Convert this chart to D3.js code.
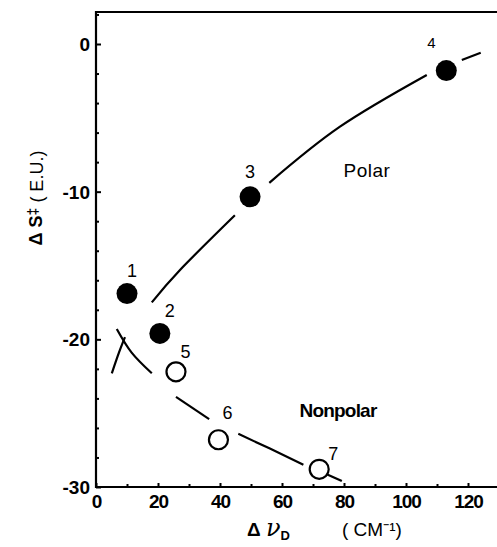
<!DOCTYPE html>
<html><head><meta charset="utf-8">
<script src="https://cdn.jsdelivr.net/npm/d3@7/dist/d3.min.js"></script>
<style>
body{margin:0;background:#fff;}
svg{display:block;font-family:"Liberation Sans",Arial,sans-serif;}
</style></head>
<body><svg id="c" width="497" height="547"></svg>
<script>
// ---- data ----
const polarIds = ["1","2","3","4"];
const polarX = [10, 20.6, 49.7, 113];
const polarY = [-16.9, -19.6, -10.35, -1.8];
const nonpolarIds = ["5","6","7"];
const nonpolarX = [25.8, 39.5, 72];
const nonpolarY = [-22.2, -26.8, -28.8];
// hand-drawn guide curves (segments, with gaps around markers)
const polarCurve = [
  [[18,-17.5],[27.1,-15.3],[44.8,-11.6]],
  [[55.9,-9.4],[78.7,-5.6],[106.7,-2.1]],
  [[118,-1.08],[124.1,-0.59]]
];
const nonpolarCurve = [
  [[5.1,-22.3],[7.4,-20.9],[9.35,-19.85]],
  [[6.7,-19.3],[11.5,-20.9],[18.0,-22.3]],
  [[25.8,-23.9],[36.5,-25.4]],
  [[45.9,-26.4],[56.1,-27.4],[66.9,-28.5]],
  [[74.6,-29.15],[79.3,-29.6]]
];
const xTicks = [0,20,40,60,80,100,120];
const xMinor = [10,30,50,70,90,110,130];
const yTicks = [0,-10,-20,-30];
const yMinor = [2,-2,-4,-6,-8,-12,-14,-16,-18,-22,-24,-26,-28];
const groupLabels = ["Polar","Nonpolar"];

// ---- styling / layout ----
const labelOffsets = {"1":[5,-17],"2":[10,-16],"3":[0,-19],"4":[-15,-23],"5":[9.5,-14],"6":[9,-21],"7":[14,-9]};

const svg = d3.select("#c");
const x = d3.scaleLinear().domain([0,120]).range([96,468]);
const y = d3.scaleLinear().domain([-30,0]).range([487,44]);
const frameTop = 12, frameRight = 497;

// frame
const frame = svg.append("g").attr("stroke","#000").attr("stroke-width",2.2).attr("fill","none");
frame.append("path").attr("d",`M${frameRight},${frameTop}H${x(0)}V${y(-30)}H${frameRight}`);

// axes
const fontSize = 19;
const gx = svg.append("g").attr("transform",`translate(0,${y(-30)})`)
  .call(d3.axisBottom(x).tickValues(xTicks).tickSize(-4).tickPadding(7.5));
const gxm = svg.append("g").attr("transform",`translate(0,${y(-30)})`)
  .call(d3.axisBottom(x).tickValues(xMinor).tickSize(-3).tickFormat(""));
const gy = svg.append("g").attr("transform",`translate(${x(0)},0)`)
  .call(d3.axisLeft(y).tickValues(yTicks).tickSize(-5).tickPadding(6).tickFormat(d=>d===0?"0":"-"+Math.abs(d)));
const gym = svg.append("g").attr("transform",`translate(${x(0)},0)`)
  .call(d3.axisLeft(y).tickValues(yMinor).tickSize(-3).tickFormat(""));
[gx,gxm,gy,gym].forEach(g=>{
  g.select(".domain").remove();
  g.selectAll("line").attr("stroke","#000").attr("stroke-width",2);
  g.selectAll("text").attr("fill","#000").attr("font-size",fontSize).attr("font-weight","bold")
    .attr("font-family","Liberation Sans, Arial, sans-serif");
});
gy.selectAll("text").attr("dy","0.34em");
gx.selectAll("text").attr("letter-spacing",-1);

// curves
const line = d3.line().x(d=>x(d[0])).y(d=>y(d[1])).curve(d3.curveNatural);
svg.append("g").attr("fill","none").attr("stroke","#000").attr("stroke-width",2.2)
  .selectAll("path").data(polarCurve.concat(nonpolarCurve)).join("path").attr("d",line);

// markers
const polar = polarIds.map((id,i)=>({id,x:polarX[i],y:polarY[i]}));
const nonpolar = nonpolarIds.map((id,i)=>({id,x:nonpolarX[i],y:nonpolarY[i]}));
svg.append("g").selectAll("circle").data(polar).join("circle")
  .attr("cx",d=>x(d.x)).attr("cy",d=>y(d.y)).attr("r",10.5).attr("fill","#000");
svg.append("g").selectAll("circle").data(nonpolar).join("circle")
  .attr("cx",d=>x(d.x)).attr("cy",d=>y(d.y)).attr("r",9.5).attr("fill","#fff").attr("stroke","#000").attr("stroke-width",2.2);

// point labels
svg.append("g").attr("font-size",18).attr("text-anchor","middle")
  .selectAll("text").data(polar.concat(nonpolar)).join("text")
  .attr("x",d=>x(d.x)+labelOffsets[d.id][0]).attr("y",d=>y(d.y)+labelOffsets[d.id][1])
  .attr("font-size",d=>d.id==="4"?15:18)
  .text(d=>d.id);

// group labels
svg.append("text").attr("x",367).attr("y",177).attr("text-anchor","middle").attr("font-size",19).attr("letter-spacing",0.5).text(groupLabels[0]);
svg.append("text").attr("x",338).attr("y",417).attr("text-anchor","middle").attr("font-size",19).attr("letter-spacing",-0.8).attr("font-weight","bold").text(groupLabels[1]);

// y axis title
const yt = svg.append("text").attr("transform","translate(42,198) rotate(-90)").attr("text-anchor","middle").attr("font-size",18).attr("font-weight","bold");
yt.append("tspan").text("Δ S");
yt.append("tspan").attr("font-size",14).attr("dy","-0.3em").text("‡");
yt.append("tspan").attr("dy","0.3em").attr("font-weight","normal").text(" ( E.U.)");

// x axis title
const xt = svg.append("text").attr("x",247).attr("y",536).attr("font-size",19);
xt.append("tspan").attr("font-weight","bold").text("Δ ");
xt.append("tspan").attr("font-style","italic").attr("font-size",24).attr("font-family","DejaVu Serif, serif").text("ν");
xt.append("tspan").attr("font-size",13).attr("dy","0.3em").attr("font-weight","bold").text("D");
svg.append("text").attr("x",342).attr("y",536).attr("font-size",19).text("( CM⁻¹)");
</script></body></html>
